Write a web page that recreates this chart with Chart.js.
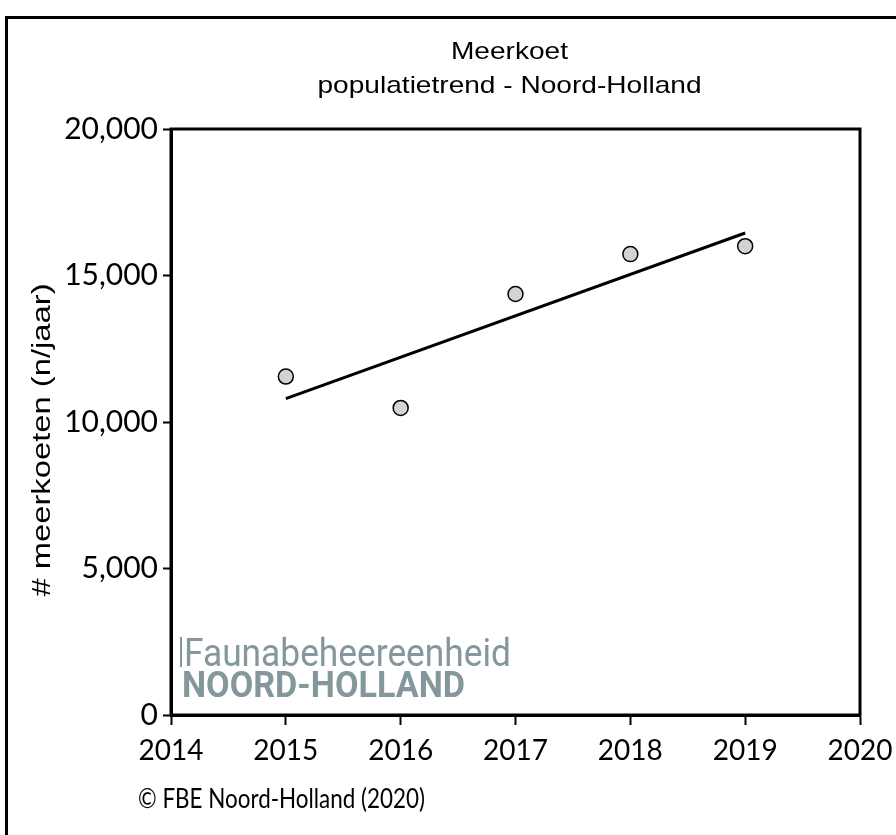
<!DOCTYPE html>
<html>
<head>
<meta charset="utf-8">
<script src="https://cdn.jsdelivr.net/npm/chart.js@4/dist/chart.umd.min.js"></script>
<style>
  html, body { margin: 0; padding: 0; background: #fff; }
  canvas { display: block; }
</style>
</head>
<body>
<canvas id="trend" width="896" height="835"></canvas>
<script>
// meerkoet counts per year
var years = [2015, 2016, 2017, 2018, 2019];
var counts = [11550, 10480, 14370, 15730, 16000];
// trend line end points
var trendYears = [2015, 2019];
var trendValues = [10800, 16450];

var titleLines = ['Meerkoet', 'populatietrend - Noord-Holland'];
var yTitle = '# meerkoeten (n/jaar)';
var credit = '\u00a9 FBE Noord-Holland (2020)';
var logoLines = ['Faunabeheereenheid', 'NOORD-HOLLAND'];

var xTickFont = { family: 'Lato', size: 28 };
var yTickFont = { family: 'Lato', size: 30 };
var logoGrey = '#83979c';

function toPoints(xs, ys) {
	return xs.map(function (x, i) { return { x: x, y: ys[i] }; });
}

// the source renders its Arial text a bit wide, so stretch it sideways
function wideText(c, text, x, y, stretch) {
	c.save();
	c.translate(x, y);
	c.scale(stretch, 1);
	c.fillText(text, 0, 0);
	c.restore();
}

var decorations = {
	id: 'decorations',
	beforeDraw: function (chart) {
		var c = chart.ctx;
		c.save();
		c.fillStyle = '#fff';
		c.fillRect(0, 0, chart.width, chart.height);
		// outer frame, runs off the right and bottom edge
		c.strokeStyle = '#000';
		c.lineWidth = 3;
		c.strokeRect(6.5, 17.5, 1000, 1000);
		c.restore();
	},
	beforeDatasetsDraw: function (chart) {
		var c = chart.ctx;
		var a = chart.chartArea;
		c.save();
		// logo
		c.fillStyle = logoGrey;
		c.fillRect(a.left + 9, 637, 2, 30);
		c.textAlign = 'left';
		c.textBaseline = 'alphabetic';
		c.font = '39px Roboto';
		c.fillText(logoLines[0], a.left + 13, 666, 327);
		c.font = 'bold 36px Roboto';
		c.fillText(logoLines[1], a.left + 11, 697, 283);
		c.restore();
	},
	afterDraw: function (chart) {
		var c = chart.ctx;
		var a = chart.chartArea;
		c.save();
		// plot box
		c.strokeStyle = '#000';
		c.lineWidth = 3;
		c.strokeRect(a.left, a.top, a.right - a.left, a.bottom - a.top);

		c.fillStyle = '#000';
		c.textAlign = 'center';
		c.textBaseline = 'alphabetic';
		c.font = '24px "Liberation Sans"';
		var cx = (a.left + a.right) / 2 - 6;
		wideText(c, titleLines[0], cx, 59, 1.17);
		wideText(c, titleLines[1], cx, 93, 1.17);

		// y axis title
		c.save();
		c.translate(50, 440);
		c.rotate(-Math.PI / 2);
		c.font = '26px "Liberation Sans"';
		wideText(c, yTitle, 0, 0, 1.26);
		c.restore();

		// credit line
		c.textAlign = 'left';
		c.font = '26px Lato';
		c.fillText(credit, 138, 808, 287);
		c.restore();
	}
};

var chart = new Chart(document.getElementById('trend'), {
	type: 'scatter',
	data: {
		datasets: [
			{
				type: 'line',
				data: toPoints(trendYears, trendValues),
				borderColor: '#000',
				borderWidth: 3,
				pointRadius: 0,
				fill: false
			},
			{
				data: toPoints(years, counts),
				backgroundColor: '#d3d3d3',
				borderColor: '#000',
				borderWidth: 1.5,
				pointRadius: 7.5
			}
		]
	},
	options: {
		responsive: false,
		devicePixelRatio: 1,
		animation: false,
		layout: { padding: { top: 129, right: 36, bottom: 0, left: 0 } },
		plugins: {
			legend: { display: false },
			title: { display: false },
			tooltip: { enabled: false }
		},
		scales: {
			x: {
				type: 'linear',
				min: 2014,
				max: 2020,
				afterFit: function (s) {
					s.height = 120;
					s.paddingLeft = 0;
					s.paddingRight = 0;
				},
				ticks: {
					stepSize: 1,
					color: '#000',
					font: xTickFont,
					padding: 9,
					callback: function (v) { return String(v); }
				},
				grid: {
					drawOnChartArea: false,
					drawTicks: true,
					tickLength: 10,
					tickWidth: 2,
					tickColor: '#000'
				},
				border: { display: true, color: '#000', width: 3 }
			},
			y: {
				min: 0,
				max: 20000,
				afterFit: function (s) {
					s.width = 171;
					s.paddingTop = 0;
					s.paddingBottom = 0;
				},
				ticks: {
					stepSize: 5000,
					color: '#000',
					font: yTickFont,
					padding: 5
				},
				grid: {
					drawOnChartArea: false,
					drawTicks: true,
					tickLength: 8,
					tickWidth: 2,
					tickColor: '#000'
				},
				border: { display: true, color: '#000', width: 3 }
			}
		}
	},
	plugins: [decorations]
});
</script>
</body>
</html>
